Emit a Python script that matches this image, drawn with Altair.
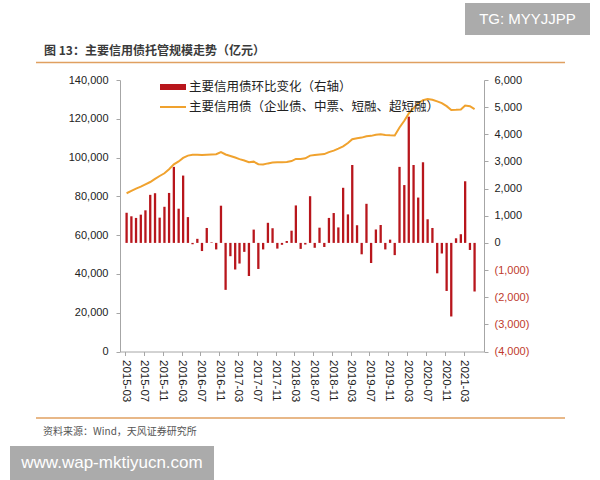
import altair as alt
import pandas as pd

# ---------------- data ----------------
months = [f"{y}-{m:02d}" for y in range(2015, 2022) for m in range(1, 13)
          if (y, m) >= (2015, 3) and (y, m) <= (2021, 5)]

# 主要信用债托管规模 (亿元), left axis
bond_stock = [81600, 82800, 84000, 85000, 86200, 87400, 89000, 90500, 91900, 94000,
              96500, 98000, 99800, 101000, 101400, 101400, 101300, 101500, 101600, 101700,
              102800, 101600, 100800, 100000, 99200, 98500, 97600, 97900, 96600, 96400,
              97000, 97400, 97600, 97600, 97700, 98200, 99300, 99300, 99600, 101000,
              101300, 101600, 101800, 102800, 103600, 104600, 105800, 107500, 109500, 110000,
              110300, 111000, 111200, 111800, 112000, 111700, 111500, 111400, 115500, 119000,
              122800, 125500, 128000, 129600, 130200, 129800, 129000, 128100, 126500, 124500,
              124600, 124800, 126800, 126500, 125000]

# 环比变化 (亿元), right axis
mom_change = [1110, 980, 920, 1040, 1200, 1770, 1830, 930, 1330, 1840,
              2800, 1260, 2480, 950, -50, 150, -300, 550, 20, -240,
              1370, -1730, -490, -980, -760, -330, -1220, 490, -960, -240,
              740, 540, -210, -70, 70, 450, 1380, -220, -60, 1720,
              -180, 560, -150, 920, 1100, 570, 2030, 1050, 2870, 650,
              -420, 1440, -740, 490, 660, -240, 120, -450, 2800, 2130,
              4650, 2870, 1670, 2970, 870, 550, -1120, -390, -1770, -2710,
              170, 320, 2270, -260, -1790]

tick_months = months[::4]
left_ticks = list(range(0, 140001, 20000))
right_ticks = list(range(-4000, 6001, 1000))

bar_name = "主要信用债环比变化（右轴）"
line_name = "主要信用债（企业债、中票、短融、超短融）"
title_text = "图 13：主要信用债托管规模走势（亿元）"
source_text = "资料来源：Wind，天风证券研究所"
wm1_text = "www.wap-mktiyucn.com"
wm2_text = "TG: MYYJJPP"

# ---------------- styling ----------------
RED = "#B8161C"
ORANGE = "#F0A22E"
AXIS_GRAY = "#A6A6A6"
CJK = "Noto Sans CJK SC"
LAT = "Liberation Sans"

df = pd.DataFrame({
    "month": months,
    "date": [m + "-01" for m in months],
    "change": mom_change,
    "stock": bond_stock,
})


def dt(s, day=1):
    y, m = s.split("-")
    return alt.DateTime(year=int(y), month=int(m), date=day, utc=True)


x_scale = alt.Scale(type="utc", domain=[dt("2015-03"), dt("2021-06", 9)])
x_axis = alt.Axis(
    values=[dt(m) for m in tick_months],
    format="%Y-%m",
    labelAngle=90,
    labelFontSize=11.5,
    labelColor="#222222",
    labelPadding=4,
    labelOverlap=False,
    labelFlush=False,
    title=None,
    domainColor=AXIS_GRAY,
    tickColor=AXIS_GRAY,
    tickSize=4,
    grid=False,
)

bars = alt.Chart(df).mark_bar(color=RED, width=2.3, xOffset=1.6).encode(
    x=alt.X("date:T", scale=x_scale, axis=x_axis),
    y=alt.Y(
        "change:Q",
        scale=alt.Scale(domain=[-4000, 6000], nice=False, zero=False),
        axis=alt.Axis(
            orient="right",
            values=right_ticks,
            labelExpr="datum.value < 0 ? '(' + format(-datum.value, ',') + ')' : format(datum.value, ',')",
            labelColor={"condition": {"test": "datum.value < 0", "value": "#C0392B"}, "value": "#222222"},
            labelFontSize=11,
            labelPadding=6,
            labelOverlap=False,
            labelFlush=False,
            title=None,
            domainColor=AXIS_GRAY,
            tickColor=AXIS_GRAY,
            tickSize=4,
            grid=False,
        ),
    ),
)

line = alt.Chart(df).mark_line(color=ORANGE, strokeWidth=2, xOffset=1.6).encode(
    x=alt.X("date:T", scale=x_scale, axis=x_axis),
    y=alt.Y(
        "stock:Q",
        scale=alt.Scale(domain=[0, 140000], nice=False),
        axis=alt.Axis(
            orient="left",
            values=left_ticks,
            format=",d",
            labelFontSize=11,
            labelColor="#222222",
            labelPadding=8,
            labelOverlap=False,
            labelFlush=False,
            title=None,
            domainColor=AXIS_GRAY,
            tickColor=AXIS_GRAY,
            tickSize=4,
            grid=False,
        ),
    ),
)


def one(text):
    return pd.DataFrame({"t": [text]})


# legend (custom)
leg_rect = alt.Chart(one(bar_name)).mark_rect(color=RED).encode(
    x=alt.value(40), x2=alt.value(66), y=alt.value(4), y2=alt.value(10))
leg_text1 = alt.Chart(one(bar_name)).mark_text(
    align="left", baseline="middle", font=CJK, fontSize=12.5, color="#222222").encode(
    x=alt.value(69), y=alt.value(7), text="t:N")
leg_line = alt.Chart(one(line_name)).mark_rule(color=ORANGE, strokeWidth=2).encode(
    x=alt.value(40), x2=alt.value(66), y=alt.value(27))
leg_text2 = alt.Chart(one(line_name)).mark_text(
    align="left", baseline="middle", font=CJK, fontSize=12.5, color="#222222").encode(
    x=alt.value(69), y=alt.value(27), text="t:N")

# title, separators, source
title = alt.Chart(one(title_text)).mark_text(
    align="left", baseline="middle", font=CJK, fontSize=12, fontWeight="bold", color="#3A3A3A").encode(
    x=alt.value(-76), y=alt.value(-29), text="t:N")
sep_top = alt.Chart(one("")).mark_rule(color="#E0A060", strokeWidth=1.5).encode(
    x=alt.value(-84), x2=alt.value(445), y=alt.value(-17.5))
sep_bot = alt.Chart(one("")).mark_rule(color="#E0A060", strokeWidth=1.5).encode(
    x=alt.value(-84), x2=alt.value(445), y=alt.value(338))
source = alt.Chart(one(source_text)).mark_text(
    align="left", baseline="middle", font=CJK, fontSize=10, color="#555555").encode(
    x=alt.value(-77), y=alt.value(352), text="t:N")

# watermarks
wm1_box = alt.Chart(one("")).mark_rect(color="#ABABAB").encode(
    x=alt.value(-110), x2=alt.value(94), y=alt.value(366), y2=alt.value(400))
wm1 = alt.Chart(one(wm1_text)).mark_text(
    align="center", baseline="middle", font=LAT, fontSize=17, color="white").encode(
    x=alt.value(-8), y=alt.value(383), text="t:N")
wm2_box = alt.Chart(one("")).mark_rect(color="#ABABAB").encode(
    x=alt.value(345), x2=alt.value(470), y=alt.value(-77), y2=alt.value(-45))
wm2 = alt.Chart(one(wm2_text)).mark_text(
    align="center", baseline="middle", font=LAT, fontSize=15, color="white").encode(
    x=alt.value(407.5), y=alt.value(-61), text="t:N")

main = alt.layer(bars, line).resolve_scale(y="independent")

chart = alt.layer(
    main, leg_rect, leg_text1, leg_line, leg_text2,
    title, sep_top, sep_bot, source, wm1_box, wm1, wm2_box, wm2,
).properties(
    width=364,
    height=271.5,
    autosize=alt.AutoSizeParams(type="none"),
    padding={"left": 120, "top": 80, "right": 116, "bottom": 128.5},
    background="white",
).configure_view(stroke=None)

chart.save("out.html", embed_options={"renderer": "svg", "actions": False})
